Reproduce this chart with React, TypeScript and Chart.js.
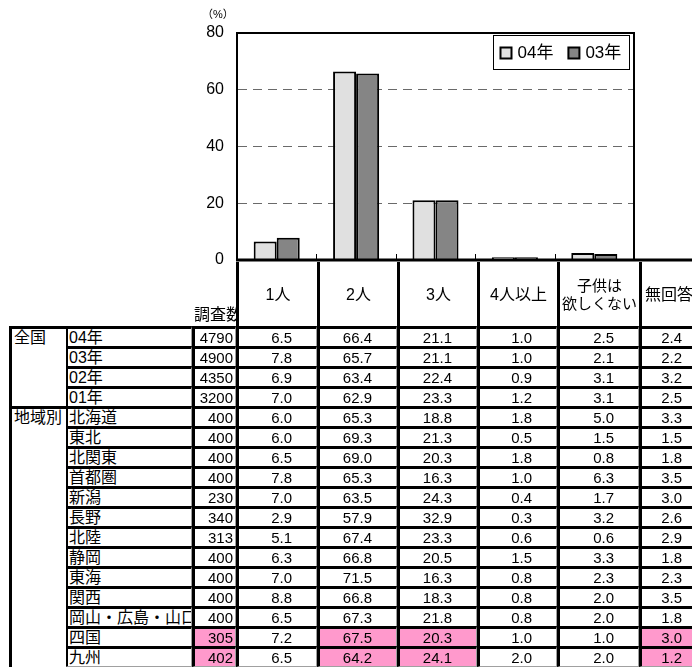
import React, { useEffect, useRef } from "react";
import { Chart, registerables } from "chart.js";

Chart.register(...registerables);

// ---- chart data ----
const categories = ["1人", "2人", "3人", "4人以上", "子供は欲しくない"];
const seriesLabels = ["04年", "03年"];
const values04 = [6.5, 66.4, 21.1, 1.0, 2.5];
const values03 = [7.8, 65.7, 21.1, 1.0, 2.1];
const yTicks = [0, 20, 40, 60, 80];
const seriesColors = ["#e0e0e0", "#858585"];

// ---- table data ----
const headerLabels = ["1人", "2人", "3人", "4人以上", "子供は\n欲しくない", "無回答"];
const groupNames = ["全国", "地域別"];
const groupSizes = [4, 13];
const rowLabels = ["04年", "03年", "02年", "01年", "北海道", "東北", "北関東", "首都圏", "新潟", "長野", "北陸", "静岡", "東海", "関西", "岡山・広島・山口", "四国", "九州"];
const sampleSizes = [4790, 4900, 4350, 3200, 400, 400, 400, 400, 230, 340, 313, 400, 400, 400, 400, 305, 402];
const colOne = [6.5, 7.8, 6.9, 7.0, 6.0, 6.0, 6.5, 7.8, 7.0, 2.9, 5.1, 6.3, 7.0, 8.8, 6.5, 7.2, 6.5];
const colTwo = [66.4, 65.7, 63.4, 62.9, 65.3, 69.3, 69.0, 65.3, 63.5, 57.9, 67.4, 66.8, 71.5, 66.8, 67.3, 67.5, 64.2];
const colThree = [21.1, 21.1, 22.4, 23.3, 18.8, 21.3, 20.3, 16.3, 24.3, 32.9, 23.3, 20.5, 16.3, 18.3, 21.8, 20.3, 24.1];
const colFour = [1.0, 1.0, 0.9, 1.2, 1.8, 0.5, 1.8, 1.0, 0.4, 0.3, 0.6, 1.5, 0.8, 0.8, 0.8, 1.0, 2.0];
const colNone = [2.5, 2.1, 3.1, 3.1, 5.0, 1.5, 0.8, 6.3, 1.7, 3.2, 0.6, 3.3, 2.3, 2.0, 2.0, 1.0, 2.0];
const colNoAnswer = [2.4, 2.2, 3.2, 2.5, 3.3, 1.5, 1.8, 3.5, 3.0, 2.6, 2.9, 1.8, 2.3, 3.5, 1.8, 3.0, 1.2];
// highlighted cells: [row index, column index] with column 0 = 調査数, 1..6 = value columns
const highlightedCells = [[15, 0], [15, 2], [15, 3], [15, 6], [16, 0], [16, 2], [16, 3], [16, 6]];

const FONT = '"Liberation Sans", Arial, "Noto Sans CJK JP", sans-serif';

// layout (px)
const colEdges = [10, 66, 193, 237, 318, 398, 478, 558, 640, 708];
const TABLE_TOP = 326;
const ROW_H = 20;
const HEADER_TOP = 259;

const framePlugin = {
  id: "frameAndLegend",
  afterDatasetsDraw(chart: any) {
    const { ctx, chartArea: a, scales } = chart;
    ctx.save();
    ctx.strokeStyle = "#000";
    ctx.lineWidth = 2;
    ctx.beginPath();
    ctx.moveTo(a.left, a.top);
    ctx.lineTo(a.right, a.top);
    ctx.lineTo(a.right, a.bottom);
    ctx.stroke();
    // x axis line
    ctx.lineWidth = 3;
    ctx.beginPath();
    ctx.moveTo(a.left - 1, a.bottom);
    ctx.lineTo(chart.width, a.bottom);
    ctx.stroke();
    // category tick marks pointing up
    const xs = scales.x;
    ctx.lineWidth = 1;
    for (let i = 1; i < chart.data.labels.length; i++) {
      const px = Math.round((xs.getPixelForValue(i - 1) + xs.getPixelForValue(i)) / 2) + 0.5;
      ctx.beginPath();
      ctx.moveTo(px, a.bottom);
      ctx.lineTo(px, a.bottom - 6);
      ctx.stroke();
    }
    // legend box
    const boxW = 136, boxH = 34;
    const bx = Math.round(a.right - 5 - boxW) + 0.5;
    const by = Math.round(a.top + 2) + 0.5;
    ctx.fillStyle = "#fff";
    ctx.fillRect(bx, by, boxW, boxH);
    ctx.lineWidth = 1;
    ctx.strokeStyle = "#000";
    ctx.strokeRect(bx, by, boxW, boxH);
    ctx.font = `17px ${FONT}`;
    ctx.textBaseline = "middle";
    let x = bx + 7;
    const cy = by + boxH / 2 + 1;
    chart.data.datasets.forEach((ds: any) => {
      ctx.fillStyle = ds.backgroundColor;
      ctx.fillRect(x, cy - 6, 11, 11);
      ctx.lineWidth = 2;
      ctx.strokeRect(x, cy - 6, 11, 11);
      ctx.fillStyle = "#000";
      ctx.fillText(ds.label, x + 17, cy);
      x += 17 + ctx.measureText(ds.label).width + 15;
    });
    ctx.restore();
  },
};

function ChartCanvas() {
  const ref = useRef<HTMLCanvasElement | null>(null);
  useEffect(() => {
    if (!ref.current) return;
    const chart = new Chart(ref.current, {
      type: "bar",
      data: {
        labels: categories,
        datasets: [
          { label: seriesLabels[0], data: values04, backgroundColor: seriesColors[0], borderColor: "#000", borderWidth: 2 },
          { label: seriesLabels[1], data: values03, backgroundColor: seriesColors[1], borderColor: "#000", borderWidth: 2 },
        ],
      },
      options: {
        animation: false,
        responsive: false,
        devicePixelRatio: 1,
        layout: { padding: { top: 33, right: 58, bottom: 20, left: 0 } },
        plugins: { legend: { display: false }, tooltip: { enabled: false } },
        datasets: { bar: { categoryPercentage: 0.58, barPercentage: 1 } },
        scales: {
          x: { display: false },
          y: {
            min: yTicks[0],
            max: yTicks[yTicks.length - 1],
            ticks: { stepSize: yTicks[1] - yTicks[0], color: "#000", font: { family: FONT, size: 16 }, padding: 13 },
            grid: {
              drawTicks: false,
              lineWidth: 1,
              color: (c: any) => (c.tick && (c.tick.value === yTicks[0] || c.tick.value === yTicks[yTicks.length - 1]) ? "rgba(0,0,0,0)" : "#6a6a6a"),
            },
            border: { color: "#000", width: 2, dash: [9, 6] },
            afterFit: (s: any) => { s.width = 237; s.paddingTop = 0; s.paddingBottom = 0; },
          },
        },
      } as any,
      plugins: [framePlugin],
    });
    return () => chart.destroy();
  }, []);
  return <canvas ref={ref} width={692} height={280} style={{ position: "absolute", left: 0, top: 0, width: 692, height: 280 }} />;
}

const valueCols = [colOne, colTwo, colThree, colFour, colNone, colNoAnswer];

function isHighlighted(r: number, c: number) {
  return highlightedCells.some(([hr, hc]) => hr === r && hc === c);
}

export default function App() {
  const cells: any[] = [];
  // header cells
  headerLabels.forEach((lab, i) => {
    const left = colEdges[3 + i] - 1;
    const width = colEdges[4 + i] - colEdges[3 + i];
    const last = i === headerLabels.length - 1;
    const twoLine = lab.indexOf("\n") >= 0;
    cells.push(
      <div key={"h" + i} style={{
        position: "absolute", left, top: HEADER_TOP + 3, width, height: TABLE_TOP - HEADER_TOP - 2,
        boxSizing: "border-box", borderLeft: "3px solid #000",
        display: "flex", alignItems: "center", justifyContent: last ? "flex-start" : "center",
        textAlign: "center", whiteSpace: "pre", fontSize: twoLine ? 15 : 16, lineHeight: "18px", paddingLeft: last ? 3 : 0,
      }}>{lab}</div>
    );
  });
  // 調査数 label
  cells.push(
    <div key="n" style={{ position: "absolute", left: 194, top: 304, width: 43, height: 22, overflow: "hidden", whiteSpace: "nowrap", fontSize: 16, lineHeight: "22px" }}>調査数</div>
  );
  // rows
  rowLabels.forEach((lab, r) => {
    const top = TABLE_TOP + r * ROW_H;
    const base = {
      position: "absolute" as const, top, height: ROW_H + 1, boxSizing: "border-box" as const,
      borderLeft: "3px solid #000", borderTop: "3px solid #000",
      borderRight: "1px solid #a0a0a0", borderBottom: "1px solid #a0a0a0",
      whiteSpace: "nowrap" as const, overflow: "hidden", lineHeight: "16px", display: "flex", alignItems: "flex-end",
      background: "#fff",
    };
    cells.push(
      <div key={"l" + r} style={{ ...base, left: colEdges[1] - 1, width: colEdges[2] - colEdges[1], fontSize: 16, paddingLeft: 1 }}>{lab}</div>
    );
    cells.push(
      <div key={"c" + r} style={{ ...base, left: colEdges[2] - 1, width: colEdges[3] - colEdges[2], fontSize: 15, justifyContent: "flex-end", paddingRight: 2, background: isHighlighted(r, 0) ? "#ff99cc" : "#fff" }}>{sampleSizes[r]}</div>
    );
    valueCols.forEach((col, c) => {
      cells.push(
        <div key={"v" + r + "_" + c} style={{ ...base, left: colEdges[3 + c] - 1, width: colEdges[4 + c] - colEdges[3 + c], fontSize: 15, justifyContent: "flex-end", paddingRight: 24, background: isHighlighted(r, c + 1) ? "#ff99cc" : "#fff" }}>{col[r].toFixed(1)}</div>
      );
    });
  });
  // group cells
  let start = 0;
  groupNames.forEach((g, i) => {
    const top = TABLE_TOP + start * ROW_H;
    cells.push(
      <div key={"g" + i} style={{
        position: "absolute", left: colEdges[0] - 1, top, width: colEdges[1] - colEdges[0] + 1, height: groupSizes[i] * ROW_H + 1,
        boxSizing: "border-box", borderLeft: "3px solid #000", borderTop: "3px solid #000", background: "#fff",
        fontSize: 16, lineHeight: "17px", paddingLeft: 2, whiteSpace: "nowrap",
      }}>{g}</div>
    );
    start += groupSizes[i];
  });

  return (
    <div style={{ position: "absolute", left: 0, top: 0, width: 692, height: 667, overflow: "hidden", background: "#fff", fontFamily: FONT, color: "#000" }}>
      <ChartCanvas />
      <div style={{ position: "absolute", left: 202, top: 8, fontSize: 11, lineHeight: "13px" }}>（%）</div>
      {cells}
    </div>
  );
}
